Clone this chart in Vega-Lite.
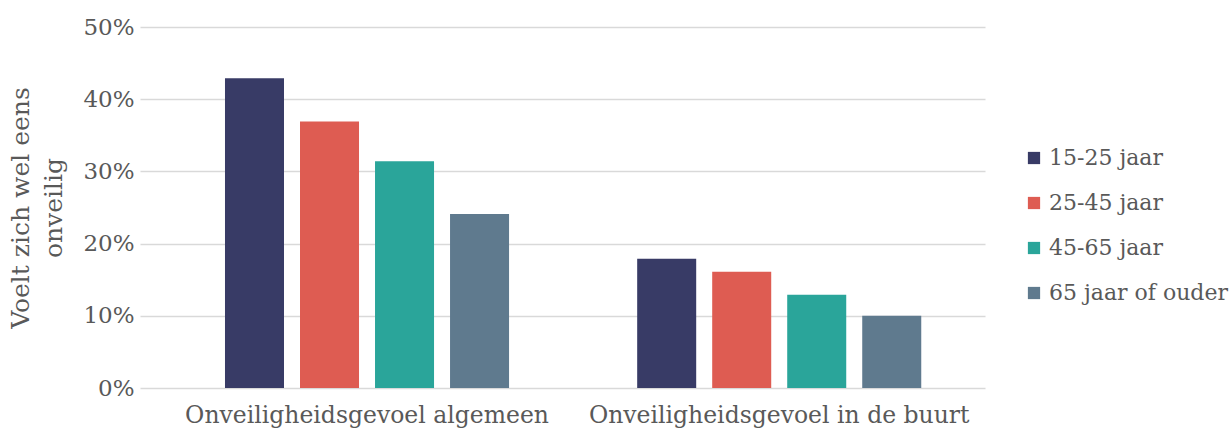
{
  "$schema": "https://vega.github.io/schema/vega-lite/v6.json",
  "autosize": "none",
  "padding": {"left": 140, "top": 27, "right": 247, "bottom": 44},
  "width": 845,
  "height": 361,
  "background": "white",
  "data": {"values": [
    {"cat": "Onveiligheidsgevoel algemeen", "group": "15-25 jaar", "value": 0.429},
    {"cat": "Onveiligheidsgevoel algemeen", "group": "25-45 jaar", "value": 0.369},
    {"cat": "Onveiligheidsgevoel algemeen", "group": "45-65 jaar", "value": 0.314},
    {"cat": "Onveiligheidsgevoel algemeen", "group": "65 jaar of ouder", "value": 0.241},
    {"cat": "Onveiligheidsgevoel in de buurt", "group": "15-25 jaar", "value": 0.179},
    {"cat": "Onveiligheidsgevoel in de buurt", "group": "25-45 jaar", "value": 0.161},
    {"cat": "Onveiligheidsgevoel in de buurt", "group": "45-65 jaar", "value": 0.129},
    {"cat": "Onveiligheidsgevoel in de buurt", "group": "65 jaar of ouder", "value": 0.100}
  ]},
  "mark": {"type": "bar"},
  "encoding": {
    "x": {
      "field": "cat", "type": "nominal", "sort": null,
      "scale": {"paddingInner": 0.272, "paddingOuter": 0.161, "align": 0.58},
      "axis": {"title": null, "labelAngle": 0, "labelLimit": 0, "domain": false, "ticks": false, "labelFont": "DejaVu Serif", "labelFontSize": 23.5, "labelColor": "#595959", "labelPadding": 15}
    },
    "xOffset": {
      "field": "group", "type": "nominal", "sort": null,
      "scale": {"paddingInner": 0.2133, "paddingOuter": 0.1067}
    },
    "y": {
      "field": "value", "type": "quantitative",
      "scale": {"domain": [0, 0.5]},
      "axis": {
        "title": ["Voelt zich wel eens", "onveilig"],
        "titleFont": "DejaVu Serif", "titleFontSize": 25, "titleFontWeight": "normal", "titleColor": "#595959", "titlePadding": 16, "titleLineHeight": 33,
        "format": ".0%", "values": [0, 0.1, 0.2, 0.3, 0.4, 0.5],
        "labelFont": "DejaVu Serif", "labelFontSize": 23, "labelColor": "#595959", "labelPadding": 6,
        "domain": false, "ticks": false,
        "grid": true, "gridColor": "#d9d9d9", "gridWidth": 1.5
      }
    },
    "color": {
      "field": "group", "type": "nominal", "sort": null,
      "scale": {"domain": ["15-25 jaar", "25-45 jaar", "45-65 jaar", "65 jaar of ouder"], "range": ["#383b66", "#de5c52", "#2aa59a", "#5f7a8e"]},
      "legend": {
        "title": null, "orient": "none", "legendX": 883, "legendY": 120,
        "symbolType": "square", "symbolSize": 150, "symbolStrokeWidth": 0,
        "labelFont": "DejaVu Serif", "labelFontSize": 22, "labelColor": "#595959", "labelLimit": 0,
        "rowPadding": 23, "labelOffset": 4
      }
    }
  },
  "config": {"view": {"stroke": null}}
}
